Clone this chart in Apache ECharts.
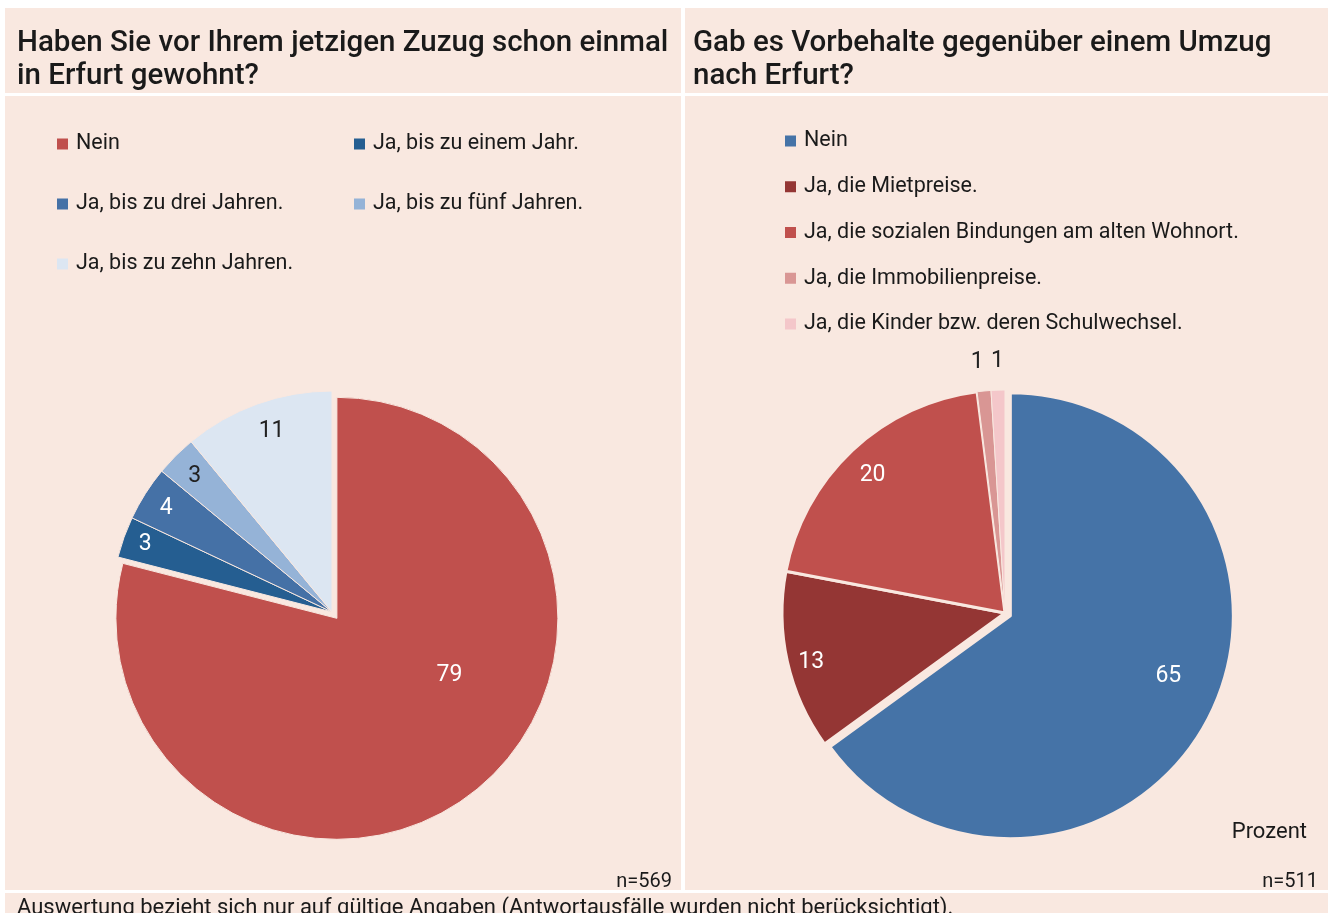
<!DOCTYPE html>
<html>
<head>
<meta charset="utf-8">
<script src="https://cdn.jsdelivr.net/npm/echarts@6/dist/echarts.min.js"></script>
<style>
  html, body { margin: 0; padding: 0; background: #ffffff; }
  #chart { width: 1330px; height: 913px; }
</style>
</head>
<body>
<div id="chart"></div>
<script>
// Question 1: earlier residence in Erfurt (percent, n=569)
const leftCategories = ['Nein', 'Ja, bis zu einem Jahr.', 'Ja, bis zu drei Jahren.', 'Ja, bis zu fünf Jahren.', 'Ja, bis zu zehn Jahren.'];
const leftValues = [79, 3, 4, 3, 11];

// Question 2: reservations about moving to Erfurt (percent, n=511)
const rightCategories = ['Nein', 'Ja, die Mietpreise.', 'Ja, die sozialen Bindungen am alten Wohnort.', 'Ja, die Immobilienpreise.', 'Ja, die Kinder bzw. deren Schulwechsel.'];
const rightValues = [65, 13, 20, 1, 1];

const leftTitle = 'Haben Sie vor Ihrem jetzigen Zuzug schon einmal\nin Erfurt gewohnt?';
const rightTitle = 'Gab es Vorbehalte gegenüber einem Umzug\nnach Erfurt?';
const leftSample = 'n=569';
const rightSample = 'n=511';
const unitText = 'Prozent';
const footnote = 'Auswertung bezieht sich nur auf gültige Angaben (Antwortausfälle wurden nicht berücksichtigt).';

// styling
const BG = '#f9e8e0';
const leftColors = ['#c0504d', '#255e91', '#4571a6', '#95b3d7', '#dce6f2'];
const rightColors = ['#4573a7', '#943634', '#c0504d', '#d99694', '#f4c7ca'];
const leftLabelColors = ['#ffffff', '#ffffff', '#ffffff', '#222222', '#222222'];
const rightLabelColors = ['#ffffff', '#ffffff', '#ffffff', '#222222', '#222222'];
// label nudges (px) relative to the default inside label anchor
const leftNudge = [[43, -33], [-80, -29], [-70, -43], [-57, -55], [-22, -74]];
const rightNudge = [[56, 9], [-82, 24], [-54, -54], [-17, -137], [-4, -137]];

const FONT = "'Roboto', 'Noto Sans', sans-serif";
const TXT = '#1a1a1a';

function legendItems(names, colors, idx) {
  return idx.map(i => ({ name: names[i], itemStyle: { color: colors[i] } }));
}

function pieData(names, values, colors, labelColors, exploded, thinBorders) {
  return values.map((v, i) => {
    const item = {
      name: names[i],
      value: v,
      selected: i === exploded,
      itemStyle: { color: colors[i] },
      label: { color: labelColors[i] }
    };
    if (thinBorders && thinBorders.indexOf(i) >= 0) {
      item.itemStyle.borderWidth = 1;
    }
    return item;
  });
}

const legendText = { fontFamily: FONT, fontSize: 21.5, lineHeight: 24, color: TXT, padding: [0, 0, 0, 2] };
const titleText = { fontFamily: FONT, fontSize: 29.5, lineHeight: 33, fontWeight: 500, color: TXT };

const chart = echarts.init(document.getElementById('chart'), null, { renderer: 'canvas' });

const option = {
  backgroundColor: '#ffffff',
  animation: false,
  graphic: {
    elements: [
      { type: 'rect', z: 0, silent: true, shape: { x: 5, y: 8, width: 676, height: 85 }, style: { fill: BG } },
      { type: 'rect', z: 0, silent: true, shape: { x: 685, y: 8, width: 643, height: 85 }, style: { fill: BG } },
      { type: 'rect', z: 0, silent: true, shape: { x: 5, y: 96, width: 676, height: 794 }, style: { fill: BG } },
      { type: 'rect', z: 0, silent: true, shape: { x: 685, y: 96, width: 643, height: 794 }, style: { fill: BG } },
      { type: 'rect', z: 0, silent: true, shape: { x: 5, y: 893, width: 1323, height: 20 }, style: { fill: BG } }
    ]
  },
  title: [
    { text: leftTitle, left: 12, top: 22, textStyle: titleText },
    { text: rightTitle, left: 688, top: 22, textStyle: titleText },
    { text: leftSample, right: 653, top: 866, textStyle: { fontFamily: FONT, fontSize: 20, lineHeight: 22, fontWeight: 'normal', color: TXT } },
    { text: rightSample, right: 7, top: 866, textStyle: { fontFamily: FONT, fontSize: 20, lineHeight: 22, fontWeight: 'normal', color: TXT } },
    { text: unitText, right: 18, top: 815, textStyle: { fontFamily: FONT, fontSize: 22, lineHeight: 24, fontWeight: 'normal', color: TXT } },
    { text: footnote, left: 12, top: 891, textStyle: { fontFamily: FONT, fontSize: 22, lineHeight: 24, fontWeight: 'normal', color: TXT } }
  ],
  legend: [
    { orient: 'vertical', left: 50, top: 127, itemGap: 36, itemWidth: 13, itemHeight: 13, icon: 'rect', selectedMode: false, textStyle: legendText, data: legendItems(leftCategories, leftColors, [0, 2, 4]) },
    { orient: 'vertical', left: 347, top: 127, itemGap: 36, itemWidth: 13, itemHeight: 13, icon: 'rect', selectedMode: false, textStyle: legendText, data: legendItems(leftCategories, leftColors, [1, 3]) },
    { orient: 'vertical', left: 778, top: 124, itemGap: 21.75, itemWidth: 13, itemHeight: 13, icon: 'rect', selectedMode: false, textStyle: legendText, data: legendItems(rightCategories, rightColors, [0, 1, 2, 3, 4]) }
  ],
  series: [
    {
      type: 'pie',
      center: [332, 612],
      radius: 221,
      startAngle: 90,
      clockwise: true,
      selectedMode: 'single',
      selectedOffset: 8,
      avoidLabelOverlap: false,
      silent: true,
      emphasis: { disabled: true },
      itemStyle: { borderColor: BG, borderWidth: 1 },
      select: { itemStyle: { borderColor: BG, borderWidth: 1 } },
      label: { show: true, position: 'inside', formatter: '{c}', fontFamily: FONT, fontSize: 23 },
      labelLine: { show: false },
      labelLayout: p => ({ dx: leftNudge[p.dataIndex][0], dy: leftNudge[p.dataIndex][1] }),
      data: pieData(leftCategories, leftValues, leftColors, leftLabelColors, 0, null)
    },
    {
      type: 'pie',
      center: [1005, 613],
      radius: 223,
      startAngle: 90,
      clockwise: true,
      selectedMode: 'single',
      selectedOffset: 6,
      avoidLabelOverlap: false,
      silent: true,
      emphasis: { disabled: true },
      itemStyle: { borderColor: BG, borderWidth: 3 },
      select: { itemStyle: { borderColor: BG, borderWidth: 3 } },
      label: { show: true, position: 'inside', formatter: '{c}', fontFamily: FONT, fontSize: 23 },
      labelLine: { show: false },
      labelLayout: p => ({ dx: rightNudge[p.dataIndex][0], dy: rightNudge[p.dataIndex][1] }),
      data: pieData(rightCategories, rightValues, rightColors, rightLabelColors, 0, [3, 4])
    }
  ]
};

chart.setOption(option);
</script>
</body>
</html>
